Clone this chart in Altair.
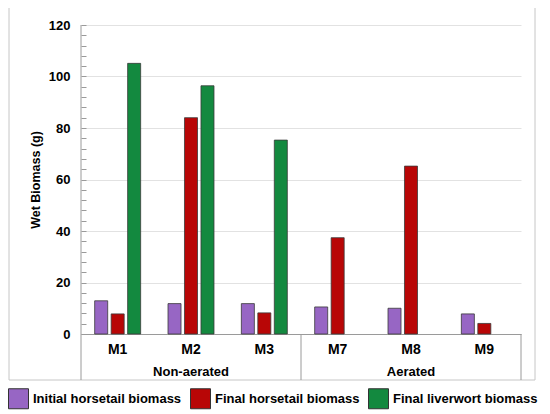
import altair as alt
import pandas as pd

categories = ["M1", "M2", "M3", "M7", "M8", "M9"]
series = ["Initial horsetail biomass", "Final horsetail biomass", "Final liverwort biomass"]
initial_horsetail = [12.9, 11.8, 11.8, 10.5, 10.0, 7.8]
final_horsetail = [7.8, 84.0, 8.2, 37.4, 65.2, 4.1]
final_liverwort = [105.1, 96.4, 75.3, None, None, None]
groups = ["Non-aerated", "Aerated"]
group_centers = ["M2", "M8"]
colors = ["#9766c4", "#b80606", "#13893f"]

rows = []
for i, c in enumerate(categories):
    for s, vals in zip(series, [initial_horsetail, final_horsetail, final_liverwort]):
        if vals[i] is not None:
            rows.append({"cat": c, "series": s, "value": vals[i]})
df = pd.DataFrame(rows)

W, H = 440, 309
FONT = "Liberation Sans"
TABLE_BOTTOM = 355

x_scale = alt.Scale(domain=categories, paddingInner=0, paddingOuter=0)
x_axis = alt.Axis(title=None, labelFont=FONT, labelFontSize=14, labelFontWeight="bold",
                  labelColor="#000", labelPadding=8, ticks=False, tickSize=0,
                  domainColor="#9a9a9a", domainWidth=1, labelAngle=0, grid=False)

bars = alt.Chart(df).mark_bar(stroke="#3a3a3a", strokeWidth=0.8).encode(
    x=alt.X("cat:N", sort=categories, scale=x_scale, axis=x_axis),
    xOffset=alt.XOffset("series:N", sort=series,
                        scale=alt.Scale(domain=series, paddingInner=0.21, paddingOuter=0.83)),
    y=alt.Y("value:Q", scale=alt.Scale(domain=[0, 120], nice=False),
            axis=alt.Axis(values=list(range(0, 121, 4)),
                          labelExpr="datum.value % 20 === 0 ? datum.label : ''",
                          gridOpacity={"condition": {"test": "datum.value % 20 === 0", "value": 1}, "value": 0},
                          gridColor="#e2e2e2", tickColor="#9a9a9a", tickSize=5, offset=-5,
                          domain=False, labelPadding=11, labelFont=FONT, labelFontSize=13,
                          labelFontWeight="bold", labelColor="#000",
                          title="Wet Biomass (g)", titleFont=FONT, titleFontSize=12.5,
                          titleFontWeight="bold", titleColor="#000", titlePadding=6)),
    color=alt.Color("series:N", sort=series, scale=alt.Scale(domain=series, range=colors),
                    legend=alt.Legend(orient="none", legendX=-73, legendY=363,
                                      direction="horizontal", title=None, symbolType="square",
                                      symbolSize=400, symbolStrokeColor="#333333",
                                      symbolStrokeWidth=1, symbolOpacity=1,
                                      labelFont=FONT, labelFontSize=13, labelFontWeight="bold",
                                      labelColor="#000", labelOffset=4, columnPadding=6,
                                      padding=0, labelLimit=300)),
)

one = pd.DataFrame({"a": [0]})

left_line = alt.Chart(one).mark_rule(color="#9a9a9a", strokeWidth=1).encode(
    x=alt.value(0), y=alt.value(0), y2=alt.value(TABLE_BOTTOM))

mid_div = alt.Chart(pd.DataFrame({"cat": ["M7"]})).mark_rule(color="#9a9a9a", strokeWidth=1).encode(
    x=alt.X("cat:N", sort=categories, scale=x_scale, axis=x_axis, bandPosition=0),
    y=alt.value(H), y2=alt.value(TABLE_BOTTOM))

right_div = alt.Chart(pd.DataFrame({"cat": ["M9"]})).mark_rule(color="#9a9a9a", strokeWidth=1).encode(
    x=alt.X("cat:N", sort=categories, scale=x_scale, axis=x_axis, bandPosition=1),
    y=alt.value(H), y2=alt.value(TABLE_BOTTOM))

group_text = alt.Chart(pd.DataFrame({"cat": group_centers, "group": groups})).mark_text(
    font=FONT, fontSize=13, fontWeight="bold", color="#000", baseline="middle").encode(
    x=alt.X("cat:N", sort=categories, scale=x_scale, axis=x_axis),
    y=alt.value(347), text="group:N")

border = alt.Chart(one).mark_rect(fillOpacity=0, stroke="#c6c6c6", strokeWidth=1).encode(
    x=alt.value(-72), x2=alt.value(454), y=alt.value(-20), y2=alt.value(TABLE_BOTTOM))

chart = alt.layer(border, bars, left_line, mid_div, right_div, group_text).properties(
    width=W, height=H,
    padding={"left": 73, "top": 17, "right": 21, "bottom": 76},
    autosize=alt.AutoSizeParams(type="none"),
    background="#ffffff",
).configure_view(strokeWidth=0)

chart.save("out.html", embed_options={"renderer": "svg", "actions": False})
